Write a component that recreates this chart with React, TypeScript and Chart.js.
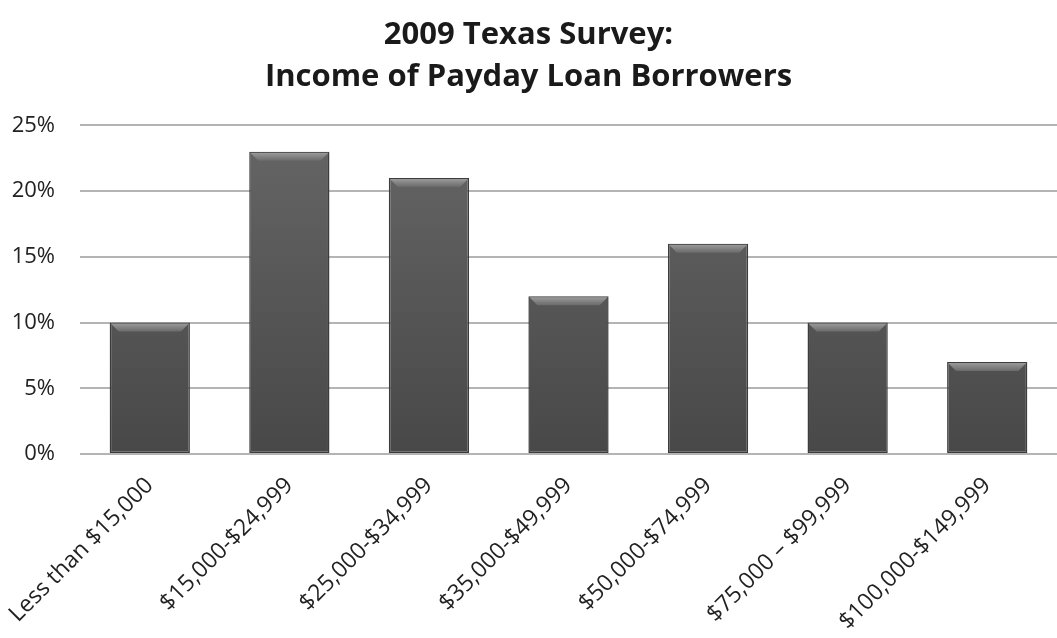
import React, { useEffect, useRef } from "react";
import { Chart, registerables } from "chart.js";

Chart.register(...registerables);

const categories = [
  "Less than $15,000",
  "$15,000-$24,999",
  "$25,000-$34,999",
  "$35,000-$49,999",
  "$50,000-$74,999",
  "$75,000 \u2013 $99,999",
  "$100,000-$149,999",
];
const shares = [10, 23, 21, 12, 16, 10, 7];
const titleLines = ["2009 Texas Survey:", "Income of Payday Loan Borrowers"];
const yTicks = [0, 5, 10, 15, 20, 25];

const FONT = "'Open Sans', sans-serif";

const bevelPlugin = {
  id: "bevel",
  afterDatasetsDraw(chart: any) {
    const ctx = chart.ctx;
    const meta = chart.getDatasetMeta(0);
    meta.data.forEach((bar: any) => {
      const { x, y, width } = bar.getProps(["x", "y", "width"], true);
      const l = x - width / 2 + 1;
      const r = x + width / 2 - 1;
      const h = 9;
      const g = ctx.createLinearGradient(0, y, 0, y + h);
      g.addColorStop(0, "#a0a0a0");
      g.addColorStop(1, "#6a6a6a");
      ctx.save();
      ctx.beginPath();
      ctx.moveTo(l, y + 1);
      ctx.lineTo(r, y + 1);
      ctx.lineTo(r - 8, y + h);
      ctx.lineTo(l + 8, y + h);
      ctx.closePath();
      ctx.fillStyle = g;
      ctx.fill();
      ctx.restore();
    });
  },
};

export default function App() {
  const ref = useRef<HTMLCanvasElement>(null);
  useEffect(() => {
    if (!ref.current) return;
    const chart = new Chart(ref.current, {
      type: "bar",
      data: {
        labels: categories,
        datasets: [
          {
            data: shares,
            backgroundColor: (c: any) => {
              const area = c.chart.chartArea;
              if (!area) return "#555";
              const g = c.chart.ctx.createLinearGradient(0, area.top, 0, area.bottom);
              g.addColorStop(0, "#666666");
              g.addColorStop(1, "#484848");
              return g;
            },
            borderColor: "#3c3c3c",
            borderWidth: 1.5,
            borderSkipped: false,
            categoryPercentage: 1,
            barPercentage: 0.575,
          },
        ],
      },
      plugins: [bevelPlugin],
      options: {
        animation: false,
        responsive: true,
        maintainAspectRatio: false,
        layout: { padding: { left: 0, right: 0, top: 10, bottom: 0 } },
        plugins: {
          legend: { display: false },
          tooltip: { enabled: false },
          title: {
            display: true,
            text: titleLines,
            color: "#1a1a1a",
            font: { family: FONT, size: 31, weight: "bold", lineHeight: 1.33 },
            padding: { top: 5, bottom: 28 },
          },
        },
        scales: {
          x: {
            grid: { display: false },
            border: { display: false },
            afterFit: (axis: any) => {
              axis.height = 184;
              axis.paddingLeft = 0;
            },
            ticks: {
              color: "#222",
              font: { family: FONT, size: 23 },
              maxRotation: 45,
              minRotation: 45,
              autoSkip: false,
              padding: 10,
            },
          },
          y: {
            min: 0,
            max: 25,
            afterBuildTicks: (axis: any) => {
              axis.ticks = yTicks.map((v) => ({ value: v }));
            },
            afterFit: (axis: any) => {
              axis.width = 80;
            },
            grid: { color: "#b4b4b4", lineWidth: 2, drawTicks: false },
            border: { display: false },
            ticks: {
              color: "#222",
              font: { family: FONT, size: 22 },
              padding: 25,
              callback: (v: any) => v + "%",
            },
          },
        },
      },
    });
    return () => chart.destroy();
  }, []);
  return (
    <div style={{ position: "fixed", left: 0, top: 0, width: 1057, height: 638, background: "#fff" }}>
      <canvas ref={ref} />
    </div>
  );
}
